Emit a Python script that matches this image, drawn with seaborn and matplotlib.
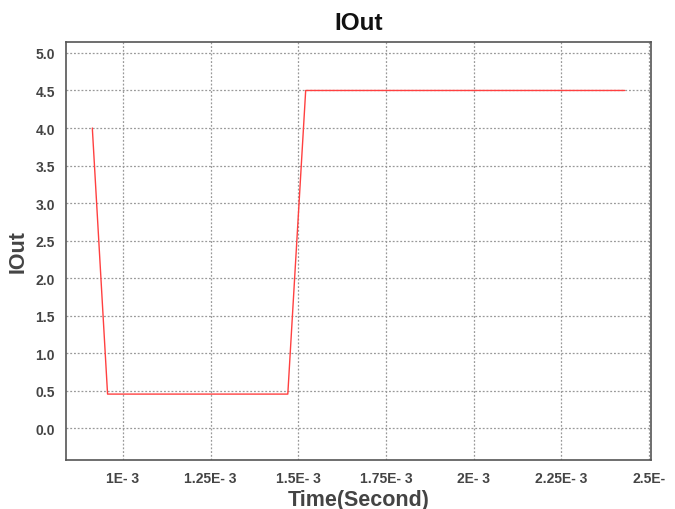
import matplotlib
matplotlib.use("Agg")
import matplotlib.pyplot as plt
import seaborn as sns
import pandas as pd

time_s = [0.9125e-3, 0.956e-3, 1.470e-3, 1.521e-3, 2.431e-3]
iout = [4.0, 0.455, 0.455, 4.5, 4.5]
x_ticks = [1.0e-3, 1.25e-3, 1.5e-3, 1.75e-3, 2.0e-3, 2.25e-3, 2.5e-3]
x_tick_labels = ["1E- 3", "1.25E- 3", "1.5E- 3", "1.75E- 3", "2E- 3", "2.25E- 3", "2.5E-"]
y_ticks = [0.0, 0.5, 1.0, 1.5, 2.0, 2.5, 3.0, 3.5, 4.0, 4.5, 5.0]

sns.set_style("white")
plt.rcParams['font.family'] = ['Liberation Sans', 'DejaVu Sans']

df = pd.DataFrame({"Time": time_s, "IOut": iout})
fig = plt.figure(figsize=(6.75, 5.1), dpi=100)
ax = fig.add_axes([0.0978, 0.0961, 0.9644 - 0.0978, 0.9163 - 0.0961])
sns.lineplot(data=df, x="Time", y="IOut", ax=ax, color="#ff4040", linewidth=1.0, sort=False)

ax.set_xlim(0.8375e-3, 2.5057e-3)
ax.set_ylim(-0.423, 5.15)
ax.set_xticks(x_ticks)
ax.set_xticklabels(x_tick_labels)
ax.set_yticks(y_ticks)
ax.set_yticklabels([f"{v:.1f}" for v in y_ticks])
ax.tick_params(axis="both", length=0, labelsize=10, colors="#444444", pad=8)
for lab in ax.get_xticklabels() + ax.get_yticklabels():
    lab.set_fontweight("bold")
ax.grid(True, color="#999999", linestyle=(0, (1.5, 1.5)), linewidth=0.9)
for s in ax.spines.values():
    s.set_color("#555555")
    s.set_linewidth(1.2)
ax.set_title("IOut", fontsize=17.5, fontweight="bold", color="#111111", pad=9)
ax.set_xlabel("Time(Second)", fontsize=15.5, fontweight="bold", color="#444444", labelpad=3)
ax.set_ylabel("IOut", fontsize=15.5, fontweight="bold", color="#444444", labelpad=5)
fig.savefig("out.png", dpi=100)
